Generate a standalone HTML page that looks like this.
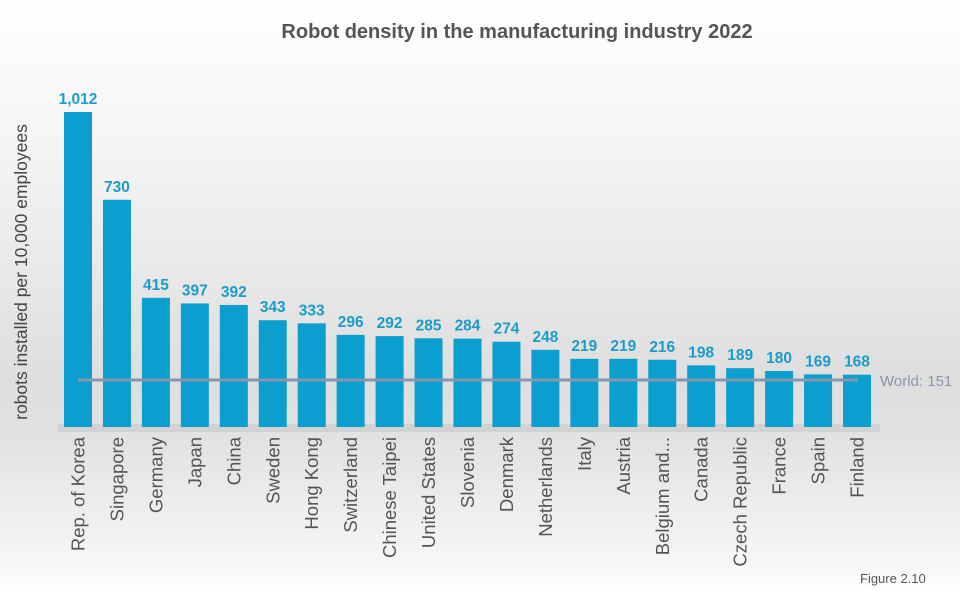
<!DOCTYPE html>
<html><head><meta charset="utf-8"><style>
body{margin:0;width:960px;height:595px;overflow:hidden;font-family:"Liberation Sans",sans-serif;}
#bg{position:absolute;left:0;top:0;width:960px;height:595px;background:linear-gradient(to bottom,#ffffff 0px,#f4f4f4 150px,#dedede 380px,#e2e2e2 440px,#f6f6f6 560px,#ffffff 595px);}
</style></head><body>
<div id="bg"></div>
<svg id="chart" width="960" height="595" style="position:absolute;left:0;top:0">
<text x="517" y="38" text-anchor="middle" font-size="20" font-weight="bold" fill="#555">Robot density in the manufacturing industry 2022</text>
<text transform="translate(27,272) rotate(-90)" text-anchor="middle" font-size="17.5" fill="#444">robots installed per 10,000 employees</text>
<text x="860" y="583" font-size="13" fill="#555">Figure 2.10</text>
<rect x="58" y="424" width="822" height="8" fill="#c4c4c4" opacity="0.5"/>
</svg>
<script>
const categories=["Rep. of Korea","Singapore","Germany","Japan","China","Sweden","Hong Kong","Switzerland","Chinese Taipei","United States","Slovenia","Denmark","Netherlands","Italy","Austria","Belgium and...","Canada","Czech Republic","France","Spain","Finland"];
const values=[1012,730,415,397,392,343,333,296,292,285,284,274,248,219,219,216,198,189,180,169,168];
const valueLabels=["1,012","730","415","397","392","343","333","296","292","285","284","274","248","219","219","216","198","189","180","169","168"];
const worldValue=151;
const svg=document.getElementById('chart');
const NS='http://www.w3.org/2000/svg';
const y0=427, scale=(427-112)/1012;
const yPos=v=>y0-v*scale;
const xPos=i=>64+i*38.95;
const bw=28;
categories.forEach((c,i)=>{
  const r=document.createElementNS(NS,'rect');
  r.setAttribute('x',xPos(i));r.setAttribute('y',yPos(values[i]));
  r.setAttribute('width',bw);r.setAttribute('height',y0-yPos(values[i]));
  r.setAttribute('fill','#0a9fcf');
  
  
  svg.appendChild(r);
  const t=document.createElementNS(NS,'text');
  t.setAttribute('x',xPos(i)+bw/2);t.setAttribute('y',yPos(values[i])-8);
  t.setAttribute('text-anchor','middle');t.setAttribute('font-size','15.5');t.setAttribute('font-weight','bold');t.setAttribute('fill','#1a9ccc');
  t.textContent=valueLabels[i];
  
  
  svg.appendChild(t);
  const l=document.createElementNS(NS,'text');
  const lx=xPos(i)+bw/2+6.5;
  l.setAttribute('transform','translate('+lx+',437) rotate(-90)');
  l.setAttribute('text-anchor','end');l.setAttribute('font-size','18.5');l.setAttribute('fill','#555');
  l.textContent=c;
  
  
  svg.appendChild(l);
});
const wl=document.createElementNS(NS,'line');
wl.setAttribute('x1',78);wl.setAttribute('x2',858);
wl.setAttribute('y1',yPos(worldValue));wl.setAttribute('y2',yPos(worldValue));
wl.setAttribute('stroke','#8797ad');wl.setAttribute('stroke-width','3');


svg.appendChild(wl);
const wt=document.createElementNS(NS,'text');
wt.setAttribute('x',880);wt.setAttribute('y',yPos(worldValue)+6);
wt.setAttribute('font-size','15');wt.setAttribute('fill','#8a96b0');
wt.textContent='World: '+worldValue;


svg.appendChild(wt);
</script>
</body></html>
